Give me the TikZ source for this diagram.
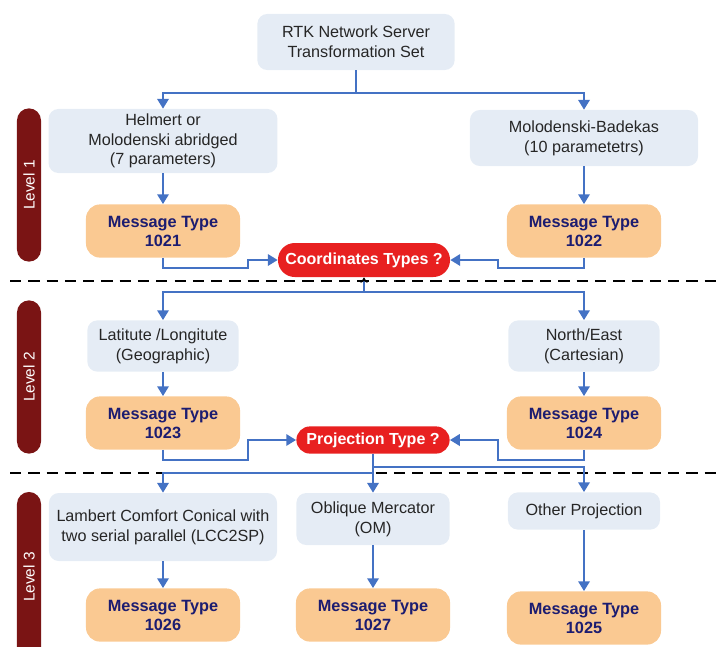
\documentclass[tikz,border=0pt]{standalone}
\usepackage{fontspec}
\setmainfont{Liberation Sans}
\usetikzlibrary{arrows.meta}
\definecolor{paleblue}{RGB}{229,236,245}
\definecolor{peach}{RGB}{250,201,146}
\definecolor{navy}{RGB}{28,28,112}
\definecolor{alarm}{RGB}{232,32,32}
\definecolor{wine}{RGB}{122,20,20}
\definecolor{linkblue}{RGB}{68,114,196}

\begin{document}
\begin{tikzpicture}[x=0.025cm,y=-0.025cm,
  choice/.style={fill=paleblue,rounded corners=7pt,align=center,inner sep=0pt,text=black!85,font=\fontsize{11.5}{14}\selectfont},
  msg/.style={fill=peach,rounded corners=10pt,minimum width=3.85cm,minimum height=1.33cm,align=center,inner sep=0pt,text=navy,font=\fontsize{11.6}{13.5}\selectfont\bfseries},
  query/.style={fill=alarm,text=white,inner sep=0pt,font=\fontsize{11.4}{13}\selectfont\bfseries},
  levelbar/.style={fill=wine,rounded corners=0.3cm,minimum height=0.6cm,inner sep=0pt,text=white,font=\fontsize{11}{13}\selectfont},
  flow/.style={linkblue,line width=1.9pt,-{Triangle[length=7pt,width=8pt]}},
  cut/.style={line width=1.3pt,dash pattern=on 8pt off 5pt}]
  \useasboundingbox (0,0) rectangle (716,646);
  % level bars on the left
  \foreach \y/\len/\n in {185/3.83cm/1,377/3.83cm/2,577/4.25cm/3}
    \node[levelbar,minimum width=\len,rotate=90] (level\n) at (29,\y) {Level \n};
  \draw[cut] (10,281) -- (716,281);
  \draw[cut] (10,473) -- (716,473);
  % level 1
  \node[choice,minimum width=4.93cm,minimum height=1.4cm] (rtk) at (356,42) {RTK Network Server\\Transformation Set};
  \node[choice,minimum width=5.72cm,minimum height=1.6cm] (helmert) at (163,141) {Helmert or\\Molodenski abridged\\(7 parameters)};
  \node[choice,minimum width=5.7cm,minimum height=1.4cm] (badekas) at (584,138) {Molodenski-Badekas\\(10 parametetrs)};
  \node[msg] (m1021) at (163,231) {Message Type\\1021};
  \node[msg] (m1022) at (584,231) {Message Type\\1022};
  \node[query,minimum width=4.3cm,minimum height=0.85cm,rounded corners=0.42cm] (coords) at (364,260) {Coordinates Types ?};
  \coordinate (fork1) at (rtk.south |- 0,93);
  \draw[flow,-] (rtk) -- (fork1);
  \draw[flow] (fork1) -| (helmert);
  \draw[flow] (fork1) -| (badekas);
  \draw[flow] (helmert) -- (m1021);
  \draw[flow] (badekas) -- (m1022);
  \draw[flow] (m1021.south) |- (248,268) |- (coords.west);
  \draw[flow] (m1022.south) |- (498,268) |- (coords.east);
  % level 2
  \node[choice,minimum width=3.78cm,minimum height=1.28cm] (latlon) at (163,346) {Latitute /Longitute\\(Geographic)};
  \node[choice,minimum width=3.78cm,minimum height=1.28cm] (northeast) at (584,346) {North/East\\(Cartesian)};
  \node[msg] (m1023) at (163,423) {Message Type\\1023};
  \node[msg] (m1024) at (584,423) {Message Type\\1024};
  \node[query,minimum width=3.83cm,minimum height=0.68cm,rounded corners=0.34cm] (proj) at (373,440) {Projection Type ?};
  \coordinate (fork2) at (coords.south |- 0,292);
  \draw[flow,-{Stealth[length=4pt,width=5pt,black]}] (fork2) -- (coords);
  \draw[flow] (fork2) -| (latlon);
  \draw[flow] (fork2) -| (northeast);
  \draw[flow] (latlon) -- (m1023);
  \draw[flow] (northeast) -- (m1024);
  \draw[flow] (m1023.south) |- (248,460) |- (proj.west);
  \draw[flow] (m1024.south) |- (498,460) |- (proj.east);
  % level 3
  \node[choice,minimum width=5.7cm,minimum height=1.7cm] (lambert) at (163,527) {Lambert Comfort Conical with\\two serial parallel (LCC2SP)};
  \node[choice,minimum width=3.83cm,minimum height=1.3cm] (oblique) at (373,519) {Oblique Mercator\\(OM)};
  \node[choice,minimum width=3.8cm,minimum height=0.93cm] (other) at (584,511) {Other Projection};
  \node[msg] (m1026) at (163,615) {Message Type\\1026};
  \node[msg] (m1027) at (373,615) {Message Type\\1027};
  \node[msg] (m1025) at (584,618) {Message Type\\1025};
  \draw[flow] (proj) -- (oblique);
  \draw[flow] (proj.south |- 0,467) -| (other);
  \draw[flow] (proj.south |- 0,473) -| (lambert);
  \draw[flow] (lambert) -- (m1026);
  \draw[flow] (oblique) -- (m1027);
  \draw[flow] (other) -- (m1025);
\end{tikzpicture}
\end{document}
